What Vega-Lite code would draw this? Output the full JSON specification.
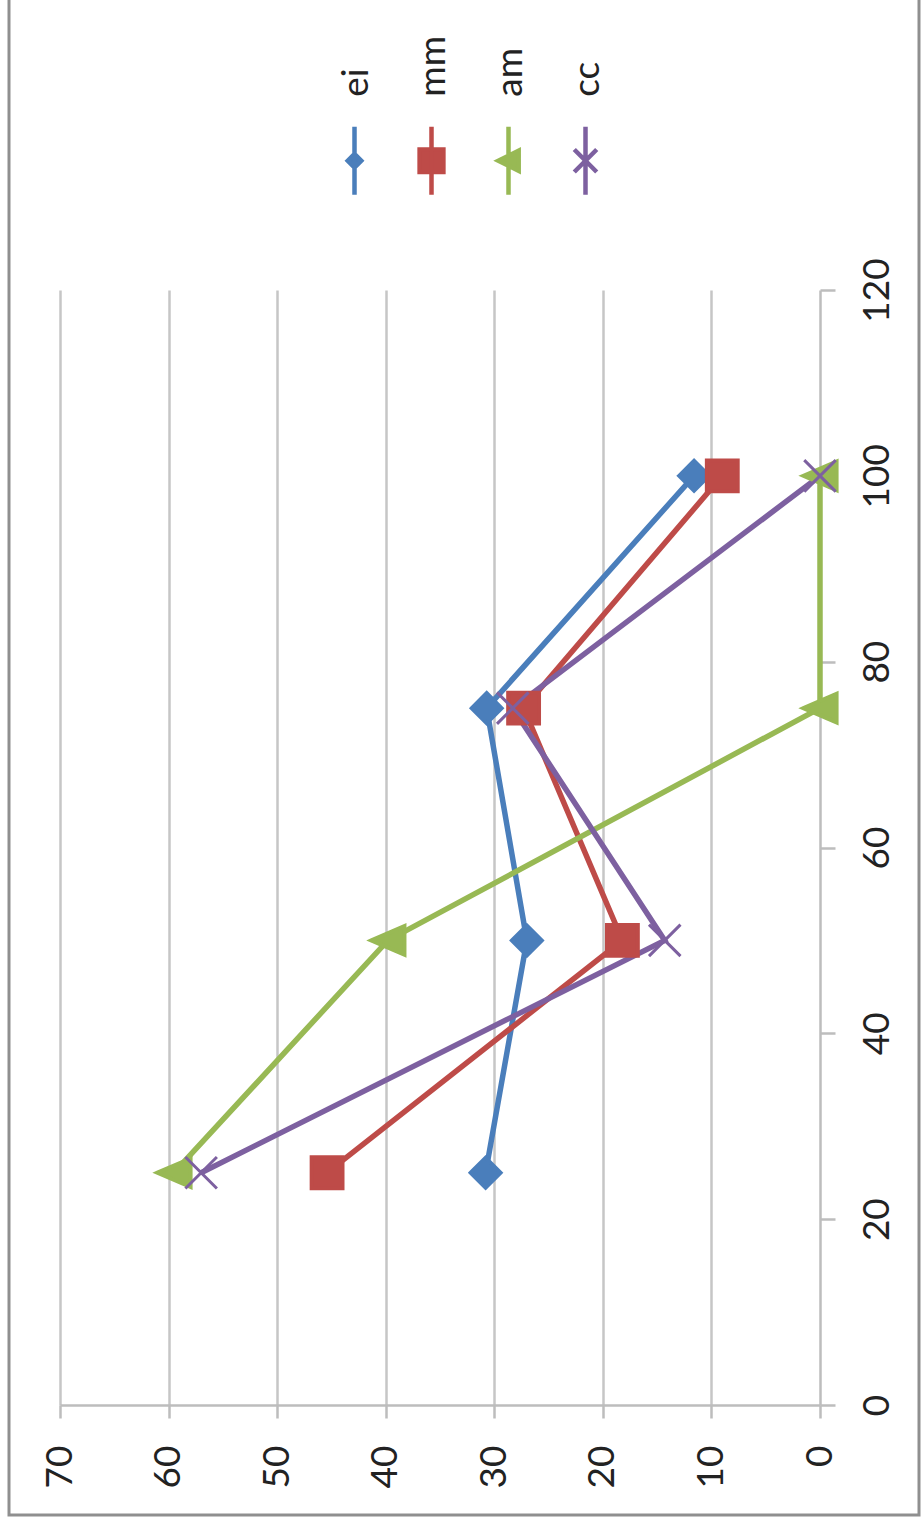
{
  "$schema": "https://vega.github.io/schema/vega-lite/v6.json",
  "width": 910,
  "height": 1517,
  "autosize": {"type": "none"},
  "padding": {"left": 9, "top": -2, "right": 5, "bottom": 11},
  "background": "white",
  "config": {
    "view": {"stroke": "#8f8f8f", "strokeWidth": 3},
    "font": "Lato",
    "axis": {
      "labelFont": "Lato", "labelFontSize": 37, "labelColor": "#222222",
      "domainColor": "#bdbdbd", "domainWidth": 2.5,
      "tickColor": "#bdbdbd", "tickWidth": 2.5,
      "gridColor": "#c6c6c6", "gridWidth": 2.5,
      "title": null
    },
    "legend": {
      "title": null, "orient": "none", "legendX": 309, "legendY": 126, "direction": "horizontal", "columns": 4,
      "gridAlign": "all", "columnPadding": 19, "padding": 0,
      "symbolSize": 4624, "symbolStrokeWidth": 4.5, "symbolOpacity": 1, "labelOffset": -34,
      "labelFont": "Lato", "labelFontSize": 37, "labelColor": "#222222", "labelAlign": "left", "labelBaseline": "middle"
    }
  },
  "resolve": {"axis": {"x": "independent"}},
  "data": {"values": [
    {"pos": 25, "v": 30.8, "s": "ei"},
    {"pos": 50, "v": 27, "s": "ei"},
    {"pos": 75, "v": 30.7, "s": "ei"},
    {"pos": 100, "v": 11.6, "s": "ei"},
    {"pos": 25, "v": 45.4, "s": "mm"},
    {"pos": 50, "v": 18.2, "s": "mm"},
    {"pos": 75, "v": 27.3, "s": "mm"},
    {"pos": 100, "v": 9, "s": "mm"},
    {"pos": 25, "v": 59.5, "s": "am"},
    {"pos": 50, "v": 39.8, "s": "am"},
    {"pos": 75, "v": 0, "s": "am"},
    {"pos": 100, "v": 0, "s": "am"},
    {"pos": 25, "v": 57, "s": "cc"},
    {"pos": 50, "v": 14.3, "s": "cc"},
    {"pos": 75, "v": 28.3, "s": "cc"},
    {"pos": 100, "v": 0, "s": "cc"}
  ]},
  "encoding": {
    "y": {
      "field": "pos", "type": "quantitative",
      "scale": {"domain": [0, 120], "range": [1407, 292], "nice": false, "zero": false},
      "axis": {
        "orient": "right", "offset": -99, "values": [0, 20, 40, 60, 80, 100, 120],
        "grid": false, "tickSize": 15, "labelAngle": -90, "labelAlign": "center",
        "labelBaseline": "top", "labelPadding": 24
      }
    }
  },
  "layer": [
    {
      "mark": {"type": "line", "strokeWidth": 5.5},
      "encoding": {
        "x": {
          "field": "v", "type": "quantitative",
          "scale": {"domain": [0, 70], "range": [811, 51], "nice": false, "zero": false},
          "axis": {
            "orient": "top", "values": [10, 20, 30, 40, 50, 60, 70],
            "grid": true, "domain": false, "ticks": false, "labels": false
          }
        },
        "order": {"field": "pos", "type": "quantitative"},
        "color": {
          "field": "s", "type": "nominal",
          "scale": {"domain": ["ei", "mm", "am", "cc"], "range": ["#4a7ebb", "#be4b48", "#98b954", "#7d60a0"]},
          "legend": {"encode": {"labels": {"update": {"angle": {"value": -90}, "dx": {"value": 64}}}}}
        }
      }
    },
    {
      "transform": [{"filter": "datum.s === 'ei'"}],
      "mark": {"type": "point", "filled": true, "size": 1100, "opacity": 1, "strokeWidth": 4, "shape": "M-0.9,0L0,-0.9L0.9,0L0,0.9Z"},
      "encoding": {
        "x": {
          "field": "v", "type": "quantitative",
          "axis": {
            "orient": "bottom", "offset": -110, "values": [0, 10, 20, 30, 40, 50, 60, 70],
            "grid": false, "tickSize": 13, "labelAngle": -90, "labelAlign": "right",
            "labelBaseline": "middle", "labelPadding": 27
          }
        },
        "color": {"field": "s", "type": "nominal", "legend": {"encode": {"labels": {"update": {"angle": {"value": -90}, "dx": {"value": 64}}}}}},
        "stroke": {
          "field": "s", "type": "nominal",
          "scale": {"domain": ["ei", "mm", "am", "cc"], "range": ["#4a7ebb", "#be4b48", "#98b954", "#7d60a0"]},
          "legend": {"encode": {"labels": {"update": {"angle": {"value": -90}, "dx": {"value": 64}}}}}
        }
      }
    },
    {
      "transform": [{"filter": "datum.s === 'mm'"}],
      "mark": {"type": "point", "filled": true, "size": 1100, "opacity": 1, "strokeWidth": 4, "shape": "M-0.93,-0.93L0.93,-0.93L0.93,0.93L-0.93,0.93Z"},
      "encoding": {
        "x": {"field": "v", "type": "quantitative", "axis": null},
        "color": {"field": "s", "type": "nominal", "legend": {"encode": {"labels": {"update": {"angle": {"value": -90}, "dx": {"value": 64}}}}}},
        "stroke": {"field": "s", "type": "nominal", "legend": {"encode": {"labels": {"update": {"angle": {"value": -90}, "dx": {"value": 64}}}}}}
      }
    },
    {
      "transform": [{"filter": "datum.s === 'am'"}],
      "mark": {"type": "point", "filled": true, "size": 1100, "opacity": 1, "strokeWidth": 4, "shape": "M-1,0L1,-0.86L1,0.86Z"},
      "encoding": {
        "x": {"field": "v", "type": "quantitative", "axis": null},
        "color": {"field": "s", "type": "nominal", "legend": {"encode": {"labels": {"update": {"angle": {"value": -90}, "dx": {"value": 64}}}}}},
        "stroke": {"field": "s", "type": "nominal", "legend": {"encode": {"labels": {"update": {"angle": {"value": -90}, "dx": {"value": 64}}}}}}
      }
    },
    {
      "transform": [{"filter": "datum.s === 'cc'"}],
      "mark": {"type": "point", "filled": true, "size": 1225, "opacity": 1, "strokeWidth": 3, "shape": "M-0.9,-0.9L0.9,0.9M-0.9,0.9L0.9,-0.9"},
      "encoding": {
        "x": {"field": "v", "type": "quantitative", "axis": null},
        "color": {"field": "s", "type": "nominal", "legend": {"encode": {"labels": {"update": {"angle": {"value": -90}, "dx": {"value": 64}}}}}},
        "stroke": {"field": "s", "type": "nominal", "legend": {"encode": {"labels": {"update": {"angle": {"value": -90}, "dx": {"value": 64}}}}}}
      }
    },
    {
      "mark": {"type": "point", "filled": true, "opacity": 0, "strokeWidth": 4.5},
      "encoding": {
        "x": {"field": "v", "type": "quantitative", "axis": null},
        "color": {"field": "s", "type": "nominal", "legend": {"encode": {"labels": {"update": {"angle": {"value": -90}, "dx": {"value": 64}}}}}},
        "stroke": {"field": "s", "type": "nominal", "legend": {"encode": {"labels": {"update": {"angle": {"value": -90}, "dx": {"value": 64}}}}}},
        "shape": {
          "field": "s", "type": "nominal",
          "scale": {"domain": ["ei", "mm", "am", "cc"], "range": [
            "M0,-1L0,1M-0.2,0L0,-0.2L0.2,0L0,0.2Z",
            "M0,-1L0,1M-0.35,-0.33L0.35,-0.33L0.35,0.33L-0.35,0.33Z",
            "M0,-1L0,1M-0.3,0L0.3,-0.3L0.3,0.3Z",
            "M0,-1L0,1M-0.33,-0.33L0.33,0.33M-0.33,0.33L0.33,-0.33"
          ]},
          "legend": {"encode": {"labels": {"update": {"angle": {"value": -90}, "dx": {"value": 64}}}}}
        }
      }
    }
  ]
}
